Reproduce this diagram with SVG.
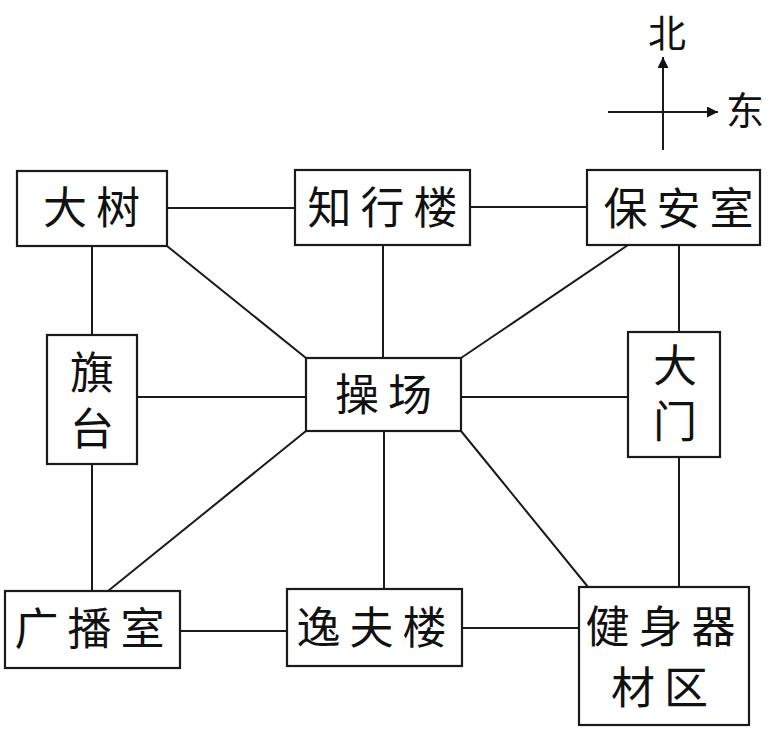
<svg xmlns="http://www.w3.org/2000/svg" width="773" height="734" viewBox="0 0 773 734">
<defs>
<style>
.box{fill:#fff;stroke:#1a1a1a;stroke-width:2.2}
.ln{stroke:#1a1a1a;stroke-width:2;fill:none}
.t{font-family:"Noto Sans CJK SC","Noto Sans CJK JP",sans-serif;font-size:44px;fill:#111;text-anchor:middle;letter-spacing:9px}
.v{font-family:"Noto Sans CJK SC","Noto Sans CJK JP",sans-serif;font-size:44px;fill:#111;text-anchor:middle;writing-mode:vertical-rl;letter-spacing:12px}
.c{font-family:"Noto Sans CJK SC","Noto Sans CJK JP",sans-serif;font-size:38px;fill:#111;text-anchor:middle}
</style>
<marker id="ah" viewBox="0 0 10 10" refX="10" refY="5" markerWidth="16" markerHeight="11" markerUnits="userSpaceOnUse" orient="auto">
<path d="M0,0 L10,5 L0,10 Z" fill="#111"/>
</marker>
</defs>
<rect width="773" height="734" fill="#fff"/>
<g id="connectors">
<line class="ln" x1="167" y1="208" x2="295" y2="208"/>
<line class="ln" x1="470" y1="207" x2="587" y2="207"/>
<line class="ln" x1="137" y1="397" x2="306" y2="397"/>
<line class="ln" x1="461" y1="397" x2="628" y2="397"/>
<line class="ln" x1="180" y1="631" x2="287" y2="631"/>
<line class="ln" x1="462" y1="628" x2="579" y2="628"/>
<line class="ln" x1="92" y1="246" x2="92" y2="335"/>
<line class="ln" x1="92" y1="464" x2="92" y2="591"/>
<line class="ln" x1="383" y1="245" x2="383" y2="358"/>
<line class="ln" x1="384" y1="431" x2="384" y2="589"/>
<line class="ln" x1="679" y1="245" x2="679" y2="332"/>
<line class="ln" x1="679" y1="457" x2="679" y2="587"/>
<line class="ln" x1="167" y1="246" x2="306" y2="358"/>
<line class="ln" x1="628" y1="245" x2="461" y2="358"/>
<line class="ln" x1="306" y1="431" x2="108" y2="591"/>
<line class="ln" x1="461" y1="431" x2="588" y2="587"/>
</g>
<g id="compass">
<line class="ln" x1="663" y1="150" x2="663" y2="57" marker-end="url(#ah)"/>
<line class="ln" x1="608" y1="112" x2="718" y2="112" marker-end="url(#ah)"/>
<text class="c" x="667" y="47">北</text>
<text class="c" x="745" y="124">东</text>
</g>
<g id="n-dashu">
<rect class="box" x="17" y="171" width="150" height="75"/>
<text class="t" x="96" y="224">大树</text>
</g>
<g id="n-zhixinglou">
<rect class="box" x="295" y="170" width="175" height="75"/>
<text class="t" x="387" y="224">知行楼</text>
</g>
<g id="n-baoanshi">
<rect class="box" x="587" y="170" width="173" height="75"/>
<text class="t" x="683" y="225">保安室</text>
</g>
<g id="n-qitai">
<rect class="box" x="47" y="335" width="90" height="129"/>
<text class="v" x="92" y="406">旗台</text>
</g>
<g id="n-caochang">
<rect class="box" x="306" y="358" width="155" height="73"/>
<text class="t" x="388" y="411">操场</text>
</g>
<g id="n-damen">
<rect class="box" x="628" y="332" width="92" height="125"/>
<text class="v" x="675" y="399">大门</text>
</g>
<g id="n-guangboshi">
<rect class="box" x="5" y="591" width="175" height="77"/>
<text class="t" x="94" y="645">广播室</text>
</g>
<g id="n-yifulou">
<rect class="box" x="287" y="589" width="175" height="77"/>
<text class="t" x="376" y="644">逸夫楼</text>
</g>
<g id="n-jianshen">
<rect class="box" x="579" y="587" width="170" height="138"/>
<text class="t" x="665" y="643">健身器</text>
<text class="t" x="664" y="704">材区</text>
</g>
</svg>
